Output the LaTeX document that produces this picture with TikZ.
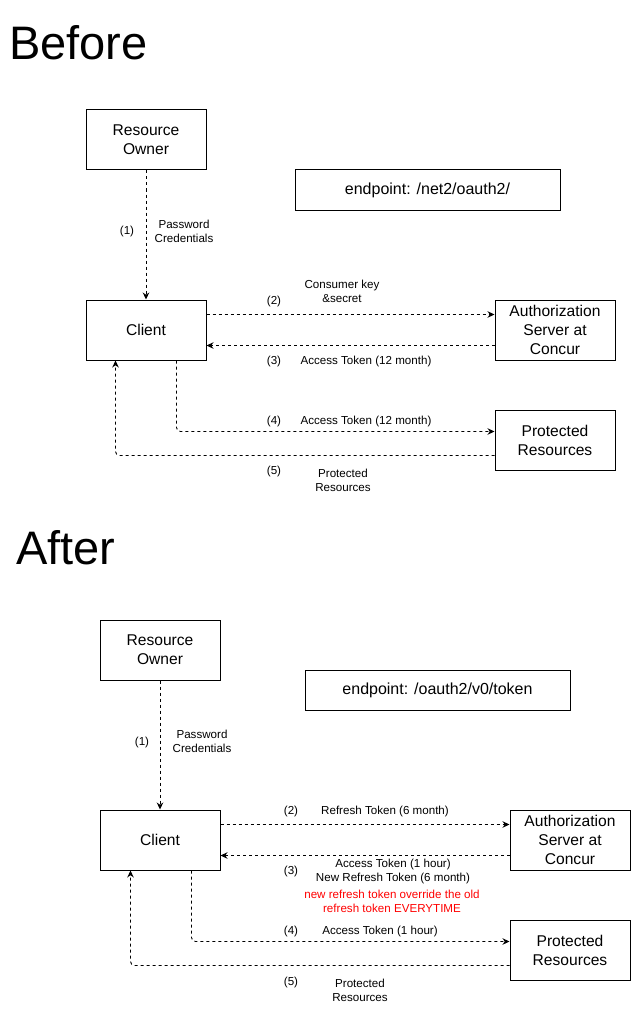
\documentclass[tikz,border=0pt]{standalone}
\usepackage{fontspec}
\setmainfont{Liberation Sans}
\usetikzlibrary{arrows.meta}
\definecolor{redtxt}{RGB}{255,0,0}
\begin{document}
\begin{tikzpicture}[x=1pt,y=-1pt,
  box/.style={draw, line width=1pt, minimum width=120pt, minimum height=60pt, inner sep=0pt, align=center, font=\fontsize{15.6}{19}\selectfont},
  epbox/.style={draw, line width=1pt, minimum width=265pt, minimum height=40pt, inner sep=0pt, font=\fontsize{16}{19}\selectfont},
  lbl/.style={inner sep=0pt, align=center, font=\fontsize{11.6}{14}\selectfont},
  redlbl/.style={lbl, text=redtxt},
  flow/.style={draw, line width=0.9pt, dash pattern=on 3pt off 3pt, -{Stealth[length=7pt,width=6.5pt]}, rounded corners=4pt},
  titletext/.style={anchor=base west, inner sep=0pt, font=\fontsize{47}{50}\selectfont}
]
\useasboundingbox (0,0) rectangle (631,1011);

% ---------- Before ----------
\node[titletext] (TB) at (9,60) {Before};
\node[box] (BRO) at (146,140) {Resource\\Owner};
\node[box] (BCL) at (146,330) {Client};
\node[box] (BAS) at (555,330) {Authorization\\Server at\\Concur};
\node[box] (BPR) at (555,440) {Protected\\Resources};
\node[epbox] (BEP) at (427.5,190) {endpoint: /net2/oauth2/};

\draw[flow] (BRO) -- (BCL);
\draw[flow] ([yshift=-15pt]BCL.north east) -- ([yshift=-15pt]BAS.north west);
\draw[flow] ([yshift=15pt]BAS.south west) -- ([yshift=15pt]BCL.south east);
\draw[flow] ([xshift=-30pt]BCL.south east) |- ([yshift=-22pt]BPR.north west);
\draw[flow] ([yshift=15pt]BPR.south west) -| ([xshift=30pt]BCL.south west);

\node[lbl] (b1) at (127,231) {(1)};
\node[lbl] (b1t) at (184,231) {Password\\Credentials};
\node[lbl] (b2) at (274,301) {(2)};
\node[lbl] (b2t) at (342,291) {Consumer key\\\&secret};
\node[lbl] (b3) at (274,361) {(3)};
\node[lbl] (b3t) at (366,361) {Access Token (12 month)};
\node[lbl] (b4) at (274,421) {(4)};
\node[lbl] (b4t) at (366,421) {Access Token (12 month)};
\node[lbl] (b5) at (274,471) {(5)};
\node[lbl] (b5t) at (343,480) {Protected\\Resources};

% ---------- After ----------
\node[titletext] (TA) at (16,564) {After};
\node[box] (ARO) at (160,650) {Resource\\Owner};
\node[box] (ACL) at (160,840) {Client};
\node[box] (AAS) at (570,840) {Authorization\\Server at\\Concur};
\node[box] (APR) at (570,950) {Protected\\Resources};
\node[epbox] (AEP) at (437.5,690) {endpoint: /oauth2/v0/token};

\draw[flow] (ARO) -- (ACL);
\draw[flow] ([yshift=-15pt]ACL.north east) -- ([yshift=-15pt]AAS.north west);
\draw[flow] ([yshift=15pt]AAS.south west) -- ([yshift=15pt]ACL.south east);
\draw[flow] ([xshift=-29pt]ACL.south east) |- ([yshift=-22pt]APR.north west);
\draw[flow] ([yshift=15pt]APR.south west) -| ([xshift=31pt]ACL.south west);

\node[lbl] (a1) at (142,742) {(1)};
\node[lbl] (a1t) at (202,741) {Password\\Credentials};
\node[lbl] (a2) at (291,811) {(2)};
\node[lbl] (a2t) at (385,811) {Refresh Token (6 month)};
\node[lbl] (a3) at (291,871) {(3)};
\node[lbl] (a3t) at (393,871) {Access Token (1 hour)\\New Refresh Token (6 month)};
\node[redlbl] (a3r) at (392,901) {new refresh token override the old\\refresh token EVERYTIME};
\node[lbl] (a4) at (291,931) {(4)};
\node[lbl] (a4t) at (380,931) {Access Token (1 hour)};
\node[lbl] (a5) at (291,982) {(5)};
\node[lbl] (a5t) at (360,990) {Protected\\Resources};
\end{tikzpicture}
\end{document}
